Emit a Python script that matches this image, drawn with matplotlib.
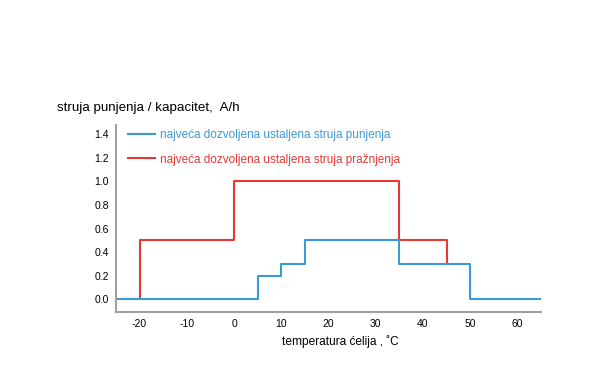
import matplotlib.pyplot as plt

plt.rcParams['font.family'] = ['Liberation Sans', 'DejaVu Sans']
plt.rcParams['axes.unicode_minus'] = False

# podaci
temp_punjenje = [-25, 5, 10, 15, 35, 50, 65]
struja_punjenje = [0, 0.2, 0.3, 0.5, 0.3, 0, 0]
temp_praznjenje = [-20, -20, 0, 35, 45, 45]
struja_praznjenje = [0, 0.5, 1.0, 0.5, 0.3, 0.3]
x_ticks = [-20, -10, 0, 10, 20, 30, 40, 50, 60]
y_ticks = [0.0, 0.2, 0.4, 0.6, 0.8, 1.0, 1.2, 1.4]
labels = ['najveća dozvoljena ustaljena struja punjenja',
          'najveća dozvoljena ustaljena struja pražnjenja']

plava = '#3b9ad6'
crvena = '#e53935'

fig = plt.figure(figsize=(6, 3.85), dpi=100)
ax = fig.add_axes([0.1933, 0.1896, 0.7084, 0.4857])

l2, = ax.step(temp_praznjenje, struja_praznjenje, where='post', color=crvena, lw=1.5)
l1, = ax.step(temp_punjenje, struja_punjenje, where='post', color=plava, lw=1.5)

ax.set_xlim(-25, 65)
ax.set_ylim(-0.11, 1.48)
ax.set_xticks(x_ticks)
ax.set_yticks(y_ticks)
ax.set_yticklabels(['%.1f' % v for v in y_ticks])
ax.tick_params(length=0, labelsize=7.5, pad=5)

for s in ['top', 'right']:
    ax.spines[s].set_visible(False)
for s in ['left', 'bottom']:
    ax.spines[s].set_color('#a0a0a0')
    ax.spines[s].set_linewidth(1.5)

leg = ax.legend([l1, l2], labels, loc='upper left', bbox_to_anchor=(0.028, 0.978),
                frameon=False, fontsize=8.5, handlelength=2.3, labelspacing=1.05,
                handletextpad=0.4, borderpad=0, borderaxespad=0)
leg.get_texts()[0].set_color(plava)
leg.get_texts()[1].set_color(crvena)

fig.text(0.095, 0.72, 'struja punjenja / kapacitet,  A/h', fontsize=9.6, ha='left', va='center')
fig.text(0.567, 0.114, 'temperatura ćelija , ˚C', fontsize=8.6, ha='center', va='center')

fig.savefig('out.png', dpi=100)
